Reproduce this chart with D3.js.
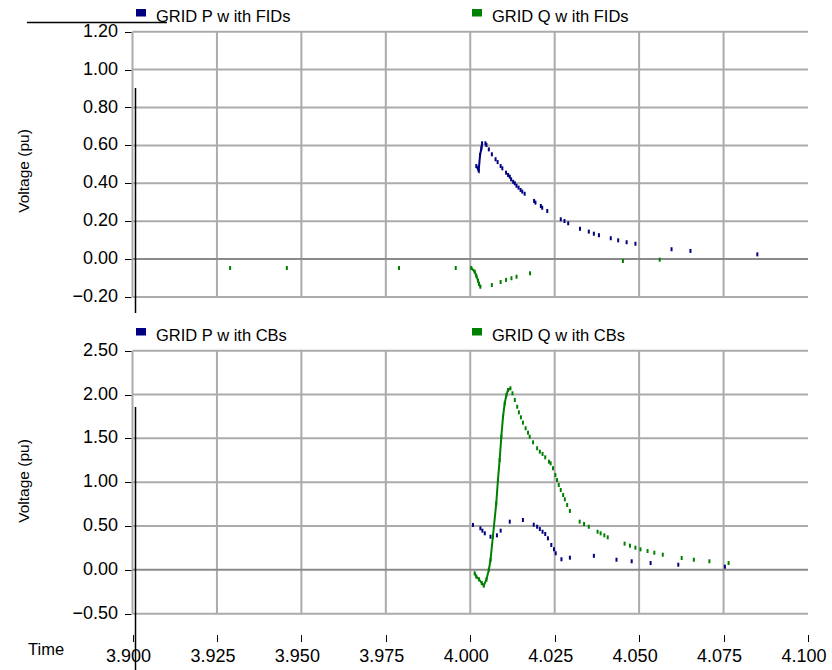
<!DOCTYPE html>
<html>
<head>
<meta charset="utf-8">
<script src="https://cdn.jsdelivr.net/npm/d3@7"></script>
<style>
  html, body { margin: 0; padding: 0; background: #fff; }
  svg { display: block; }
  text { font-family: "Liberation Sans", Arial, sans-serif; fill: #000; }
</style>
</head>
<body>
<svg id="chart" width="832" height="670"></svg>
<script>
// Time axis ticks (s)
const timeTicks = [3.900, 3.925, 3.950, 3.975, 4.000, 4.025, 4.050, 4.075, 4.100];
// Voltage ticks (pu) for each panel
const topTicks = [-0.20, 0.00, 0.20, 0.40, 0.60, 0.80, 1.00, 1.20];
const bottomTicks = [-0.50, 0.00, 0.50, 1.00, 1.50, 2.00, 2.50];

// Series names
const topNames = ["GRID P w ith FIDs", "GRID Q w ith FIDs"];
const bottomNames = ["GRID P w ith CBs", "GRID Q w ith CBs"];

// GRID P with FIDs  [time, pu]
const pFid = [
  [4.0018,0.491],[4.0025,0.467],[4.0029,0.549],[4.0033,0.585],[4.0035,0.611],
  [4.0045,0.611],[4.0048,0.602],[4.0055,0.579],[4.0064,0.553],[4.0075,0.527],
  [4.0081,0.512],[4.0090,0.491],[4.0095,0.479],[4.0106,0.456],[4.0112,0.444],
  [4.0117,0.435],[4.0121,0.421],[4.0127,0.408],[4.0132,0.400],[4.0137,0.387],
  [4.0143,0.377],[4.0149,0.365],[4.0154,0.356],[4.0161,0.345],[4.0189,0.307],
  [4.0193,0.298],[4.0209,0.280],[4.0213,0.271],[4.0228,0.254],[4.0268,0.210],
  [4.0279,0.201],[4.0290,0.189],[4.0325,0.160],[4.0351,0.145],[4.0366,0.134],
  [4.0381,0.126],[4.0416,0.110],[4.0438,0.099],[4.0463,0.089],[4.0489,0.081],
  [4.0596,0.052],[4.0652,0.043],[4.0850,0.025]
];
// GRID Q with FIDs
const qFid = [
  [3.9289,-0.047],[3.9457,-0.047],[3.9789,-0.047],[3.9957,-0.047],[4.0003,-0.047],
  [4.0013,-0.066],[4.0018,-0.088],[4.0023,-0.114],[4.0026,-0.131],[4.0030,-0.146],
  [4.0064,-0.137],[4.0090,-0.121],[4.0106,-0.110],[4.0122,-0.101],[4.0137,-0.093],
  [4.0177,-0.075],[4.0452,-0.010],[4.0561,-0.003]
];
// GRID P with CBs
const pCb = [
  [4.0008,0.512],[4.0030,0.474],[4.0036,0.447],[4.0043,0.417],[4.0060,0.378],
  [4.0079,0.394],[4.0090,0.447],[4.0117,0.550],[4.0156,0.569],[4.0188,0.515],
  [4.0198,0.492],[4.0206,0.466],[4.0214,0.435],[4.0222,0.409],[4.0230,0.360],
  [4.0240,0.284],[4.0248,0.235],[4.0253,0.189],[4.0270,0.121],[4.0295,0.139],
  [4.0366,0.160],[4.0433,0.116],[4.0478,0.098],[4.0534,0.078],[4.0616,0.059],
  [4.0754,0.036]
];
// GRID Q with CBs
const qCb = [
  [4.0013,-0.039],[4.0018,-0.078],[4.0026,-0.108],[4.0034,-0.150],[4.0040,-0.180],
  [4.0048,-0.110],[4.0055,0.000],[4.0060,0.113],[4.0067,0.378],[4.0077,0.759],
  [4.0082,1.025],[4.0087,1.253],[4.0092,1.519],[4.0097,1.747],[4.0102,1.900],
  [4.0107,1.995],[4.0112,2.052],[4.0119,2.071],[4.0125,2.014],[4.0132,1.938],
  [4.0139,1.861],[4.0144,1.797],[4.0150,1.740],[4.0156,1.679],[4.0164,1.615],
  [4.0171,1.565],[4.0176,1.519],[4.0186,1.455],[4.0198,1.387],[4.0206,1.348],
  [4.0214,1.322],[4.0222,1.284],[4.0233,1.234],[4.0238,1.216],[4.0245,1.159],
  [4.0252,1.082],[4.0257,1.025],[4.0262,0.968],[4.0268,0.911],[4.0275,0.854],
  [4.0280,0.805],[4.0287,0.740],[4.0295,0.672],[4.0324,0.550],[4.0337,0.523],
  [4.0351,0.492],[4.0377,0.435],[4.0386,0.417],[4.0397,0.394],[4.0407,0.371],
  [4.0457,0.299],[4.0473,0.276],[4.0489,0.253],[4.0504,0.234],[4.0525,0.215],
  [4.0545,0.196],[4.0570,0.173],[4.0626,0.135],[4.0662,0.116],[4.0708,0.098],
  [4.0765,0.078]
];

const NAVY = "#000080", GREEN = "#008000";
const GRID = "#ababab", ZERO = "#8a8a8a";

const svg = d3.select("#chart");
const x = d3.scaleLinear().domain([3.9, 4.1]).range([132.5, 808]);

// Each panel: y scale, ticks, series (with the index range that is drawn as a solid trace)
const panels = [
  {
    y: d3.scaleLinear().domain([-0.2, 1.2]).range([297, 31.7]),
    ticks: topTicks, names: topNames, legendY: 22, titleY: 171,
    series: [
      { data: pFid, color: NAVY, joined: [0, 4] },
      { data: qFid, color: GREEN, joined: [4, 9] }
    ]
  },
  {
    y: d3.scaleLinear().domain([-0.5, 2.5]).range([613.7, 350.7]),
    ticks: bottomTicks, names: bottomNames, legendY: 341, titleY: 481,
    series: [
      { data: pCb, color: NAVY, joined: null },
      { data: qCb, color: GREEN, joined: [0, 17] }
    ]
  }
];

panels.forEach(p => {
  const g = svg.append("g");
  const [y0, y1] = p.y.range();

  // vertical grid
  g.selectAll(".vg").data(timeTicks.slice(0, -1)).enter().append("line")
    .attr("x1", d => x(d)).attr("x2", d => x(d))
    .attr("y1", y1).attr("y2", y0)
    .attr("stroke", GRID).attr("stroke-width", 2);

  // horizontal grid + y ticks
  g.selectAll(".hg").data(p.ticks).enter().append("line")
    .attr("x1", x(3.9)).attr("x2", x(4.1))
    .attr("y1", d => p.y(d)).attr("y2", d => p.y(d))
    .attr("stroke", d => d === 0 ? ZERO : GRID).attr("stroke-width", 2);

  g.selectAll(".yt").data(p.ticks).enter().append("line")
    .attr("x1", 125).attr("x2", 131.5)
    .attr("y1", d => Math.round(p.y(d)) + 0.5).attr("y2", d => Math.round(p.y(d)) + 0.5)
    .attr("stroke", "#000").attr("stroke-width", 1);

  g.selectAll(".yl").data(p.ticks).enter().append("text")
    .attr("x", 118).attr("y", d => p.y(d) + 5)
    .attr("text-anchor", "end").attr("font-size", 18)
    .text(d => d3.format(".2f")(d));

  // axis title
  g.append("text")
    .attr("transform", `translate(29,${p.titleY}) rotate(-90)`)
    .attr("text-anchor", "middle").attr("font-size", 15.5)
    .text("Voltage (pu)");

  // legend
  const lx = [136, 472];
  p.names.forEach((name, i) => {
    g.append("rect").attr("x", lx[i]).attr("y", p.legendY - 13)
      .attr("width", 10).attr("height", 7.5).attr("fill", p.series[i].color);
    g.append("text").attr("x", lx[i] + 20).attr("y", p.legendY)
      .attr("font-size", 16.5).text(name);
  });

  // series
  p.series.forEach(s => {
    if (s.joined) {
      const run = s.data.slice(s.joined[0], s.joined[1] + 1);
      g.append("path").datum(run)
        .attr("d", d3.line().x(d => x(d[0])).y(d => p.y(d[1])))
        .attr("fill", "none").attr("stroke", s.color).attr("stroke-width", 2);
    }
    g.selectAll(null).data(s.data).enter().append("rect")
      .attr("x", d => x(d[0]) - 1).attr("y", d => p.y(d[1]) - 2)
      .attr("width", 2).attr("height", 4).attr("fill", s.color);
  });
});

// time axis ticks and labels
svg.selectAll(".xt").data(timeTicks).enter().append("line")
  .attr("x1", d => Math.round(x(d)) + 0.5).attr("x2", d => Math.round(x(d)) + 0.5)
  .attr("y1", 635).attr("y2", 642)
  .attr("stroke", "#000").attr("stroke-width", 1);
svg.selectAll(".xl").data(timeTicks).enter().append("text")
  .attr("x", d => x(d) - 4).attr("y", 662)
  .attr("text-anchor", "middle").attr("font-size", 18)
  .text(d => d3.format(".3f")(d));
svg.append("text").attr("x", 28).attr("y", 655).attr("font-size", 16.5).text("Time");

// overlay axis strokes
svg.append("line").attr("x1", 27).attr("x2", 167).attr("y1", 22.5).attr("y2", 22.5)
  .attr("stroke", "#000").attr("stroke-width", 1.3);
svg.append("line").attr("x1", 135.5).attr("x2", 135.5).attr("y1", 88).attr("y2", 313)
  .attr("stroke", "#000").attr("stroke-width", 1.5);
svg.append("line").attr("x1", 135.5).attr("x2", 135.5).attr("y1", 407).attr("y2", 670)
  .attr("stroke", "#000").attr("stroke-width", 1.5);
</script>
</body>
</html>
